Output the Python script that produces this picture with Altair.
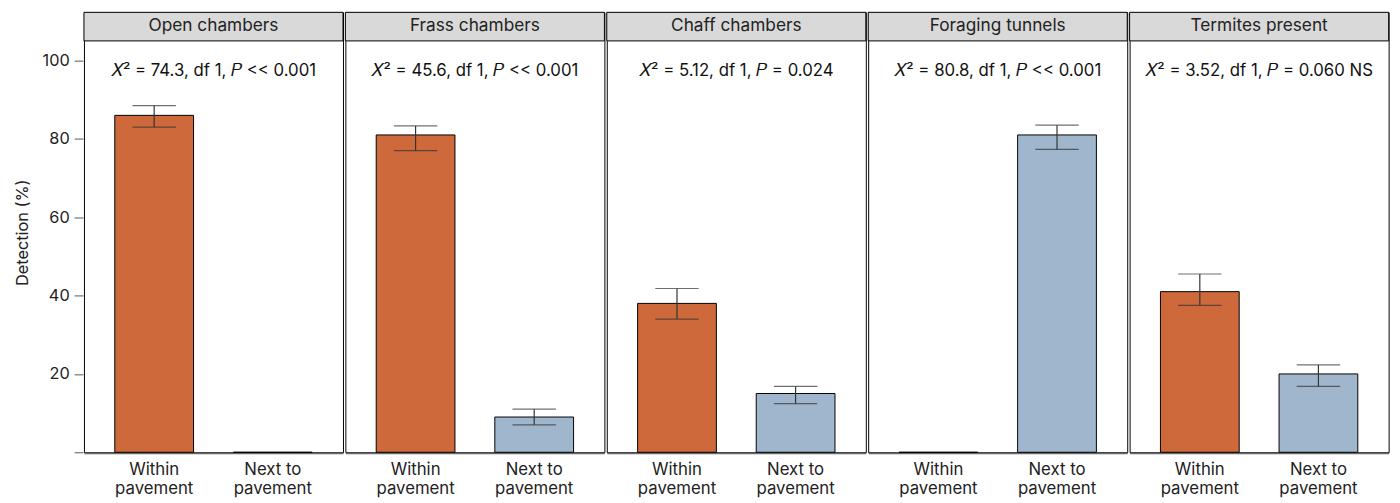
import altair as alt
import pandas as pd

panels = ["Open chambers", "Frass chambers", "Chaff chambers", "Foraging tunnels", "Termites present"]
locations = ["Within pavement", "Next to pavement"]

within_vals = [86, 81, 38, 0, 41]
within_lo = [83, 77, 34, None, 37.5]
within_hi = [88.5, 83.3, 41.8, None, 45.5]

next_vals = [0, 9, 15, 81, 20]
next_lo = [None, 7, 12.4, 77.3, 16.8]
next_hi = [None, 11, 16.8, 83.5, 22.3]

chi2 = ["74.3", "45.6", "5.12", "80.8", "3.52"]
pvals = ["<< 0.001", "<< 0.001", "= 0.024", "<< 0.001", "= 0.060 NS"]

rows = []
for i, p in enumerate(panels):
    stat = f"\U0001D44B\u00B2 = {chi2[i]}, df 1, \U0001D443 {pvals[i]}"
    rows.append(dict(panel=p, location=locations[0], value=within_vals[i],
                     lo=within_lo[i], hi=within_hi[i], stat=stat))
    rows.append(dict(panel=p, location=locations[1], value=next_vals[i],
                     lo=next_lo[i], hi=next_hi[i], stat=stat))
df = pd.DataFrame(rows)

FONT = "Inter"
W, H = 262.6, 446
YMAX = 112.3

yscale = alt.Scale(domain=[0, YMAX], nice=False, zero=True)
xscale = alt.Scale(paddingInner=0.336, paddingOuter=0.26)

x_enc = alt.X(
    "location:N", sort=locations, scale=xscale, title=None,
    axis=alt.Axis(
        labelAngle=0, ticks=False, domainColor="#666", labelFontSize=17,
        labelColor="#222", labelPadding=9, labelFont=FONT, labelLineHeight=18.5,
        labelExpr="[slice(datum.label, 0, indexof(datum.label, ' pavement')), 'pavement']",
    ),
)

y_axis = alt.Axis(
    values=[0, 20, 40, 60, 80, 100], labelExpr="datum.value == 0 ? '' : datum.label",
    domain=False, grid=False, tickColor="#555", tickSize=9, labelFontSize=16.5,
    labelColor="#222", labelPadding=5, labelFont=FONT, title="Detection (%)",
    titleFontSize=16.5, titleFontWeight="normal", titleFont=FONT, titleColor="#222",
    titlePadding=12,
)

base = alt.Chart().properties(width=W, height=H)

bars = base.mark_bar(stroke="black", strokeWidth=1).encode(
    x=x_enc,
    y=alt.Y("value:Q", scale=yscale, axis=y_axis),
    color=alt.Color("location:N", sort=locations,
                    scale=alt.Scale(domain=locations, range=["#CD693A", "#A0B6CD"]),
                    legend=None),
)

err = base.mark_rule(color="#333", strokeWidth=1.2).encode(
    x=alt.X("location:N", sort=locations, scale=xscale),
    y=alt.Y("lo:Q", scale=yscale),
    y2="hi:Q",
)
cap_lo = base.mark_tick(color="#333", size=44, thickness=1.2).encode(
    x=alt.X("location:N", sort=locations, scale=xscale),
    y=alt.Y("lo:Q", scale=yscale),
)
cap_hi = base.mark_tick(color="#333", size=44, thickness=1.2).encode(
    x=alt.X("location:N", sort=locations, scale=xscale),
    y=alt.Y("hi:Q", scale=yscale),
)

strip = base.mark_rect(fill="#d9d9d9", stroke="black", strokeWidth=1).encode(
    y=alt.datum(105, scale=yscale),
    y2=alt.value(0),
).transform_filter(alt.datum.location == locations[0])

strip_text = base.mark_text(fontSize=17.5, font=FONT, color="#222").encode(
    y=alt.datum(108.8, scale=yscale),
    text="panel:N",
).transform_filter(alt.datum.location == locations[0])

stat_text = base.mark_text(fontSize=17, font=FONT, color="#111").encode(
    y=alt.datum(97.2, scale=yscale),
    text="stat:N",
).transform_filter(alt.datum.location == locations[0])

layer = alt.layer(bars, err, cap_lo, cap_hi, strip, strip_text, stat_text)

chart = layer.facet(
    data=df,
    column=alt.Column("panel:N", sort=panels,
                      header=alt.Header(title=None, labels=False)),
    spacing=0,
).configure_view(
    stroke="black", strokeWidth=1
).properties(
    padding={"left": 6, "top": 0, "right": 2, "bottom": 0}
)

chart.save("out.html", embed_options={"renderer": "svg", "actions": False})
